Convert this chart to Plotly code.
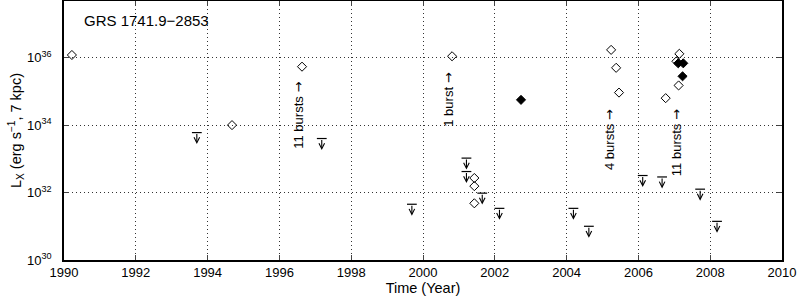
import numpy as np
import plotly.graph_objects as go

# Detections (open diamonds)
open_year = [1990.22, 1994.68, 1996.63, 2000.81, 2001.43, 2001.43, 2001.43,
             2005.24, 2005.38, 2005.46, 2006.76, 2007.06, 2007.12, 2007.14]
open_lx = [1.2e36, 1.0e34, 5.4e35, 1.1e36, 2.7e32, 1.55e32, 4.8e31,
           1.7e36, 5.0e35, 9.2e34, 6.3e34, 7.8e35, 1.5e35, 1.3e36]

# Detections (filled diamonds)
filled_year = [2002.73, 2007.11, 2007.25, 2007.23]
filled_lx = [5.6e34, 6.8e35, 6.8e35, 2.8e35]

# Upper limits
ul_year = [1993.70, 1997.18, 1999.69, 2001.21, 2001.21, 2001.65, 2002.13,
           2004.19, 2004.62, 2006.12, 2006.66, 2007.72, 2008.19]
ul_lx = [6.0e33, 4.0e33, 4.5e31, 1.05e33, 4.2e32, 9.6e31, 3.4e31,
         3.4e31, 1.0e31, 3.2e32, 2.9e32, 1.26e32, 1.4e31]

# Burst annotations
burst_label = ["11 bursts", "1 burst", "4 bursts", "11 bursts"]
burst_year = [1996.54, 2000.72, 2005.19, 2007.06]
burst_lx = [2.0e34, 5.6e34, 3.7e33, 3.0e33]

y_tickvals = [1e30, 1e32, 1e34, 1e36]
y_ticktext = ["10<sup>30</sup>", "10<sup>32</sup>", "10<sup>34</sup>", "10<sup>36</sup>"]
x_tickvals = list(range(1990, 2011, 2))

FONT = "Liberation Sans, Arial, sans-serif"
GRID = dict(showgrid=True, gridcolor="#333", griddash="1px,3px", gridwidth=1)

fig = go.Figure()

fig.add_trace(go.Scatter(
    x=open_year, y=open_lx, mode="markers",
    marker=dict(symbol="diamond-open", size=7, color="black", line=dict(width=1, color="black")),
    showlegend=False))
fig.add_trace(go.Scatter(
    x=filled_year, y=filled_lx, mode="markers",
    marker=dict(symbol="diamond", size=7, color="black", line=dict(width=1, color="black")),
    showlegend=False))
# caps for upper limits
fig.add_trace(go.Scatter(
    x=ul_year, y=ul_lx, mode="markers",
    marker=dict(symbol="line-ew", size=7, color="black", line=dict(width=1.2, color="black")),
    showlegend=False))

# arrows of upper limits (log axis: annotation coords in log10)
arrow_len_dec = 0.34
for xv, yv in zip(ul_year, ul_lx):
    ly = np.log10(yv)
    fig.add_annotation(x=xv, y=ly - arrow_len_dec, ax=xv, ay=ly,
                       xref="x", yref="y", axref="x", ayref="y",
                       showarrow=True, arrowhead=5, arrowsize=1.0, arrowwidth=1.1,
                       arrowcolor="black", text="")

for t, xv, yv in zip(burst_label, burst_year, burst_lx):
    fig.add_annotation(x=xv, y=np.log10(yv), xref="x", yref="y",
                       text=t + " <span style='font-family:DejaVu Sans'>\u2192</span>",
                       showarrow=False, textangle=-90,
                       font=dict(family=FONT, size=13, color="black"))

fig.add_annotation(x=0.025, y=0.925, xref="paper", yref="paper", xanchor="left", yanchor="middle",
                   text="GRS 1741.9\u22122853", showarrow=False,
                   font=dict(family=FONT, size=15, color="black"))

fig.update_xaxes(range=[1990, 2010], tickvals=x_tickvals, ticks="inside", ticklen=5,
                 showline=True, linecolor="black", linewidth=1.5, mirror="ticks",
                 zeroline=False, automargin=False, ticklabeloverflow="allow", **GRID,
                 tickfont=dict(family=FONT, size=13, color="black"),
                 title=dict(text="Time (Year)", font=dict(family=FONT, size=14.5, color="black"), standoff=0))
fig.update_yaxes(type="log", range=[30, 37.68], tickvals=y_tickvals, ticktext=y_ticktext,
                 ticks="inside", ticklen=5, ticklabelstandoff=8,
                 showline=True, linecolor="black", linewidth=1.5, mirror="ticks",
                 zeroline=False, automargin=False, ticklabeloverflow="allow", **GRID,
                 tickfont=dict(family=FONT, size=13, color="black"),
                 title=dict(text="L<sub>X</sub> (erg s<sup>\u22121</sup>, 7 kpc)",
                            font=dict(family=FONT, size=14.5, color="black"), standoff=2))

fig.update_layout(width=798, height=296, margin=dict(l=64, r=16, t=1, b=36, autoexpand=False),
                  plot_bgcolor="white", paper_bgcolor="white")

fig.write_html("out.html", config={"displayModeBar": False},
               post_script="document.body.style.margin='0px';document.body.style.padding='0px';")
